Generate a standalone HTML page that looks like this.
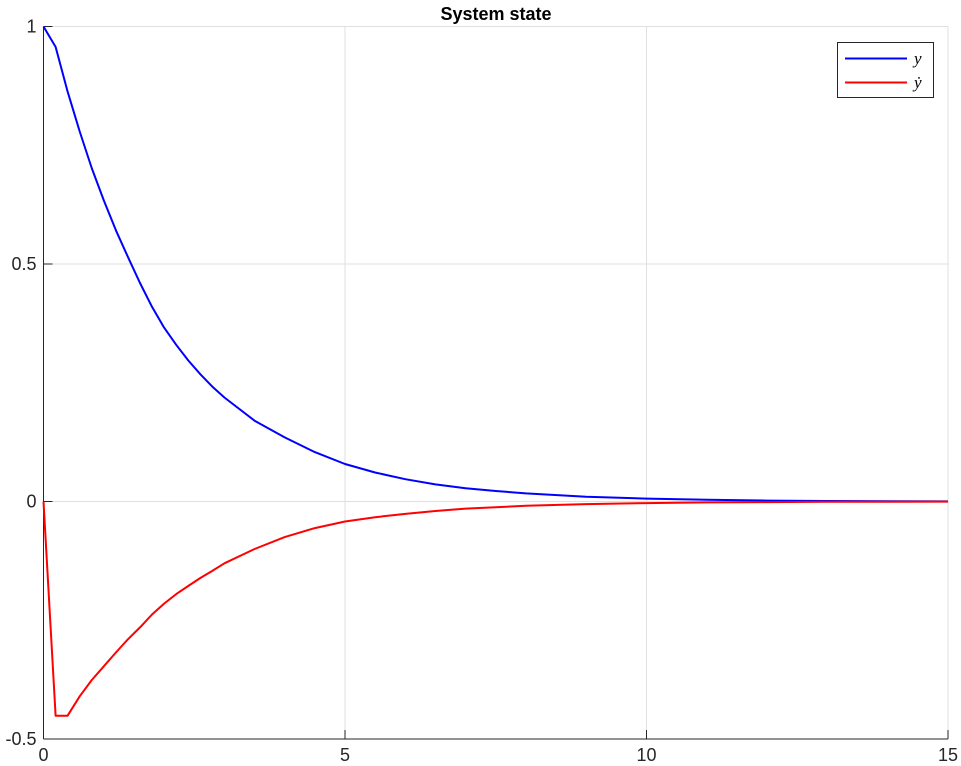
<!DOCTYPE html>
<html><head><meta charset="utf-8"><style>
body{margin:0;background:#fff;}
svg{display:block;font-family:"Liberation Sans",sans-serif;}
</style></head><body>
<svg id="chart" width="961" height="766">
<g id="grid"></g>
<g id="axes"></g>
<g id="series"></g>
<text x="496" y="20" text-anchor="middle" font-weight="bold" font-size="18" fill="#000">System state</text>
<g>
<rect x="837.5" y="42.5" width="96" height="55" fill="#fff" stroke="#262626" stroke-width="1"/>
<line x1="845" y1="58.5" x2="907" y2="58.5" stroke="#0000ff" stroke-width="2"/>
<text x="914" y="64" font-family="Liberation Serif,serif" font-style="italic" font-size="17">y</text>
<line x1="845" y1="82.5" x2="907" y2="82.5" stroke="#ff0000" stroke-width="2"/>
<text x="914" y="88" font-family="Liberation Serif,serif" font-style="italic" font-size="17">ẏ</text>
</g>
</svg>
<script>
const tVals=[0,0.2,0.4,0.6,0.8,1.0,1.2,1.4,1.6,1.8,2.0,2.2,2.4,2.6,2.8,3.0,3.5,4,4.5,5,5.5,6,6.5,7,7.5,8,9,10,11,12,13,14,15];
const yVals=[1,0.957,0.863,0.779,0.702,0.634,0.571,0.515,0.46,0.41,0.366,0.33,0.297,0.268,0.242,0.219,0.17,0.135,0.104,0.079,0.061,0.047,0.036,0.028,0.022,0.017,0.01,0.006,0.0035,0.002,0.001,0.0005,0.0003];
const ydotVals=[0,-0.451,-0.451,-0.41,-0.376,-0.347,-0.318,-0.29,-0.265,-0.238,-0.215,-0.195,-0.178,-0.161,-0.146,-0.13,-0.1,-0.075,-0.056,-0.042,-0.033,-0.026,-0.02,-0.015,-0.012,-0.009,-0.0055,-0.0033,-0.002,-0.0012,-0.0007,-0.0004,-0.0002];
const xTicks=[0,5,10,15];
const yTicks=[-0.5,0,0.5,1];
const yTickLabels=["-0.5","0","0.5","1"];
const X0=43.5,X1=948,Y0=739,Y1=26.5;
const sx=t=>X0+(t-0)/(15-0)*(X1-X0);
const sy=v=>Y0-(v+0.5)/(1.5)*(Y0-Y1);
const NS="http://www.w3.org/2000/svg";
const grid=document.getElementById('grid'),axes=document.getElementById('axes'),series=document.getElementById('series');
function mk(tag,attrs,parent){const e=document.createElementNS(NS,tag);for(const k in attrs)e.setAttribute(k,attrs[k]);parent.appendChild(e);return e;}
xTicks.forEach(t=>{
  const g=mk('line',{x1:sx(t),x2:sx(t),y1:Y1,y2:Y0,stroke:'#dfdfdf','stroke-width':1},grid);
  
  
  const tk=mk('line',{x1:sx(t),x2:sx(t),y1:Y0,y2:Y0-9,stroke:'#262626'},axes);
  
  
  const lb=mk('text',{x:sx(t),y:Y0+22,'text-anchor':'middle','font-size':18,fill:'#262626'},axes);
  lb.textContent=String(t);
  
  
});
yTicks.forEach((v,i)=>{
  const g=mk('line',{x1:X0,x2:X1,y1:sy(v),y2:sy(v),stroke:'#dfdfdf','stroke-width':1},grid);
  
  
  const tk=mk('line',{x1:X0,x2:X0+9,y1:sy(v),y2:sy(v),stroke:'#262626'},axes);
  
  
  const lb=mk('text',{x:X0-7,y:sy(v)+6,'text-anchor':'end','font-size':18,fill:'#262626'},axes);
  lb.textContent=yTickLabels[i];
  
  
});
const xa=mk('line',{x1:X0,x2:X1,y1:Y0,y2:Y0,stroke:'#262626'},axes);


const ya=mk('line',{x1:X0,x2:X0,y1:Y1,y2:Y0,stroke:'#262626'},axes);


function line(vals,color,name){
  const d=tVals.map((t,i)=>(i?'L':'M')+sx(t).toFixed(1)+','+sy(vals[i]).toFixed(1)).join('');
  const p=mk('path',{d:d,fill:'none',stroke:color,'stroke-width':2,'stroke-linejoin':'round'},series);
  
  
}
line(yVals,'#0000ff','series-y');
line(ydotVals,'#ff0000','series-ydot');
</script>
</body></html>
